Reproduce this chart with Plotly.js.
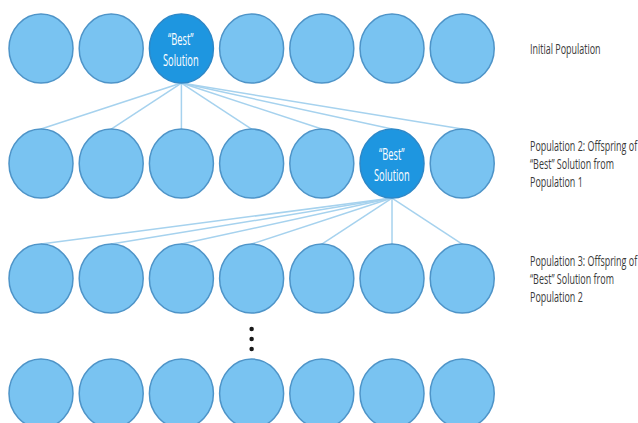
<!DOCTYPE html>
<html>
<head>
<meta charset="utf-8">
<script src="https://cdn.plot.ly/plotly-3.0.1.min.js"></script>
<style>html,body{margin:0;padding:0;background:#fff;}#chart{width:638px;height:423px;}</style>
</head>
<body>
<div id="chart"></div>
<script>
// Diagram data
const columns = [1, 2, 3, 4, 5, 6, 7];
const rows = [1, 2, 3, 4];
const bestColumn = [3, 6, null, null];   // "best" solution index in each row
const rowLabels = [
  "Initial Population",
  "Population 2: Offspring of<br>\u201cBest\u201d Solution from<br>Population 1",
  "Population 3: Offspring of<br>\u201cBest\u201d Solution from<br>Population 2",
  ""
];
const bestText = "\u201cBest\u201d<br>Solution";
const ellipsisColumn = 4;
const ellipsisOffsets = [-0.087, 0, 0.087];

const RX = 0.456, RY = 0.30;
const FONT = "'Open Sans', sans-serif";
const shapes = [];
const annotations = [];
const squeeze = [];   // horizontal/vertical scale per annotation (condensed look)

// connector lines (below circles)
rows.forEach((r, ri) => {
  const b = bestColumn[ri];
  if (b === null || ri + 1 >= rows.length) return;
  columns.forEach(c => {
    shapes.push({type: 'line', xref: 'x', yref: 'y', layer: 'below',
      x0: b, y0: r + RY, x1: c, y1: rows[ri + 1] - RY,
      line: {color: '#a6d2ee', width: 1.5}});
  });
});

// circles
rows.forEach((r, ri) => {
  columns.forEach(c => {
    const best = bestColumn[ri] === c;
    shapes.push({type: 'circle', xref: 'x', yref: 'y', layer: 'above',
      x0: c - RX, x1: c + RX, y0: r - RY, y1: r + RY,
      fillcolor: best ? '#1e96e0' : '#79c3f1',
      line: {color: best ? '#2d88c8' : '#4e94c8', width: 1.5}});
    if (best) {
      annotations.push({x: c, y: r, xref: 'x', yref: 'y', text: bestText,
        showarrow: false, align: 'center',
        font: {family: FONT, size: 15, color: '#ffffff'}});
      squeeze.push({sx: 0.62, sy: 1.07, anchor: 'center'});
    }
  });
  if (rowLabels[ri]) {
    annotations.push({x: 7.937, y: r, xref: 'x', yref: 'y', text: rowLabels[ri],
      showarrow: false, xanchor: 'left', align: 'left',
      font: {family: FONT, size: 14, color: '#3a3a3a'}});
    squeeze.push({sx: 0.64, sy: 1.0, anchor: 'left'});
  }
});

const dots = {
  x: ellipsisOffsets.map(() => ellipsisColumn),
  y: ellipsisOffsets.map(o => (rows[2] + rows[3]) / 2 + o + 0.026),
  mode: 'markers', type: 'scatter', hoverinfo: 'skip',
  marker: {color: '#1a1a1a', size: 4.5}
};

const layout = {
  width: 638, height: 423,
  margin: {l: 0, r: 0, t: 0, b: 0},
  paper_bgcolor: '#ffffff', plot_bgcolor: '#ffffff',
  showlegend: false,
  xaxis: {range: [0.416, 9.504], visible: false, fixedrange: true},
  yaxis: {range: [4.256, 0.578], visible: false, fixedrange: true},
  shapes: shapes,
  annotations: annotations
};

Plotly.newPlot('chart', [dots], layout, {displayModeBar: false, staticPlot: true}).then(gd => {
  const texts = gd.querySelectorAll('.annotation text.annotation-text');
  texts.forEach((t, i) => {
    const s = squeeze[i];
    if (!s) return;
    const bb = t.getBBox();
    const ox = s.anchor === 'left' ? bb.x : bb.x + bb.width / 2;
    const oy = bb.y + bb.height / 2;
    t.setAttribute('transform',
      `translate(${ox},${oy}) scale(${s.sx},${s.sy}) translate(${-ox},${-oy})`);
  });
});
</script>
</body>
</html>
